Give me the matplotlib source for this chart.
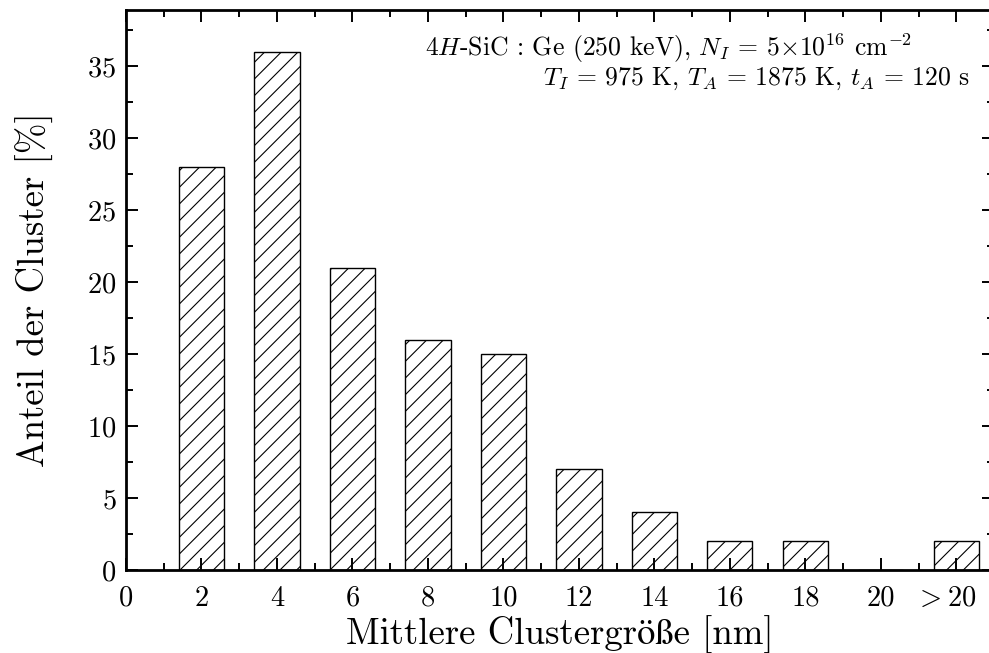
import matplotlib
matplotlib.use('Agg')
import matplotlib.pyplot as plt
import matplotlib.transforms as mtransforms
from matplotlib.ticker import MultipleLocator

# Daten: Anteil der Cluster je Größenklasse
groesse = [2, 4, 6, 8, 10, 12, 14, 16, 18, 20, 22]
anteil = [28, 36, 21, 16, 15, 7, 4, 2, 2, 0, 2]
tick_pos = [0, 2, 4, 6, 8, 10, 12, 14, 16, 18, 20, 22]
tick_text = ['0', '2', '4', '6', '8', '10', '12', '14', '16', '18', '20', r'$>$20']

plt.rcParams['font.family'] = ['cmr10', 'STIXGeneral']
plt.rcParams['mathtext.fontset'] = 'cm'
plt.rcParams['axes.formatter.use_mathtext'] = True
plt.rcParams['hatch.linewidth'] = 0.8

fig = plt.figure(figsize=(9.89, 6.53), dpi=100)
ax = fig.add_axes([126 / 989, 83 / 653, 868 / 989, 560 / 653])

ax.bar(groesse, anteil, width=1.2, color='white', edgecolor='black',
       linewidth=1.0, hatch='//')

ax.set_xlim(0, 23)
ax.set_ylim(0, 38.9)
ax.set_xticks(tick_pos)
ax.set_xticklabels(tick_text)
ax.xaxis.set_minor_locator(MultipleLocator(1))
ax.yaxis.set_major_locator(MultipleLocator(5))
ax.yaxis.set_minor_locator(MultipleLocator(2.5))

ax.tick_params(which='both', direction='in', top=True, right=True,
               width=1.4, labelsize=20.5)
ax.tick_params(axis='x', pad=11)
ax.tick_params(axis='y', pad=7)
ax.tick_params(which='major', length=8.5)
ax.tick_params(which='minor', length=5)
for s in ax.spines.values():
    s.set_linewidth(2)

# letzte Beschriftung etwas nach links, damit sie nicht abgeschnitten wird
lbl = ax.get_xticklabels()[-1]
lbl.set_transform(lbl.get_transform() +
                  mtransforms.ScaledTranslation(-0.11, 0, fig.dpi_scale_trans))

ax.set_xlabel('Mittlere Clustergröße [nm]', fontsize=26.5, labelpad=3)
ax.set_ylabel('Anteil der Cluster [%]', fontsize=26.5, labelpad=24)

# Probenparameter oben rechts
fig.text(425 / 989, 1 - 48 / 653,
         r'4$H$-SiC : Ge (250 keV), $N_{I}$ = 5$\times$10$^{16}$ cm$^{-2}$',
         fontsize=18.5, ha='left', va='center')
fig.text(970 / 989, 1 - 79 / 653,
         r'$T_{I}$ = 975 K, $T_{A}$ = 1875 K, $t_{A}$ = 120 s',
         fontsize=18.5, ha='right', va='center')

fig.savefig('out.png', dpi=100)
